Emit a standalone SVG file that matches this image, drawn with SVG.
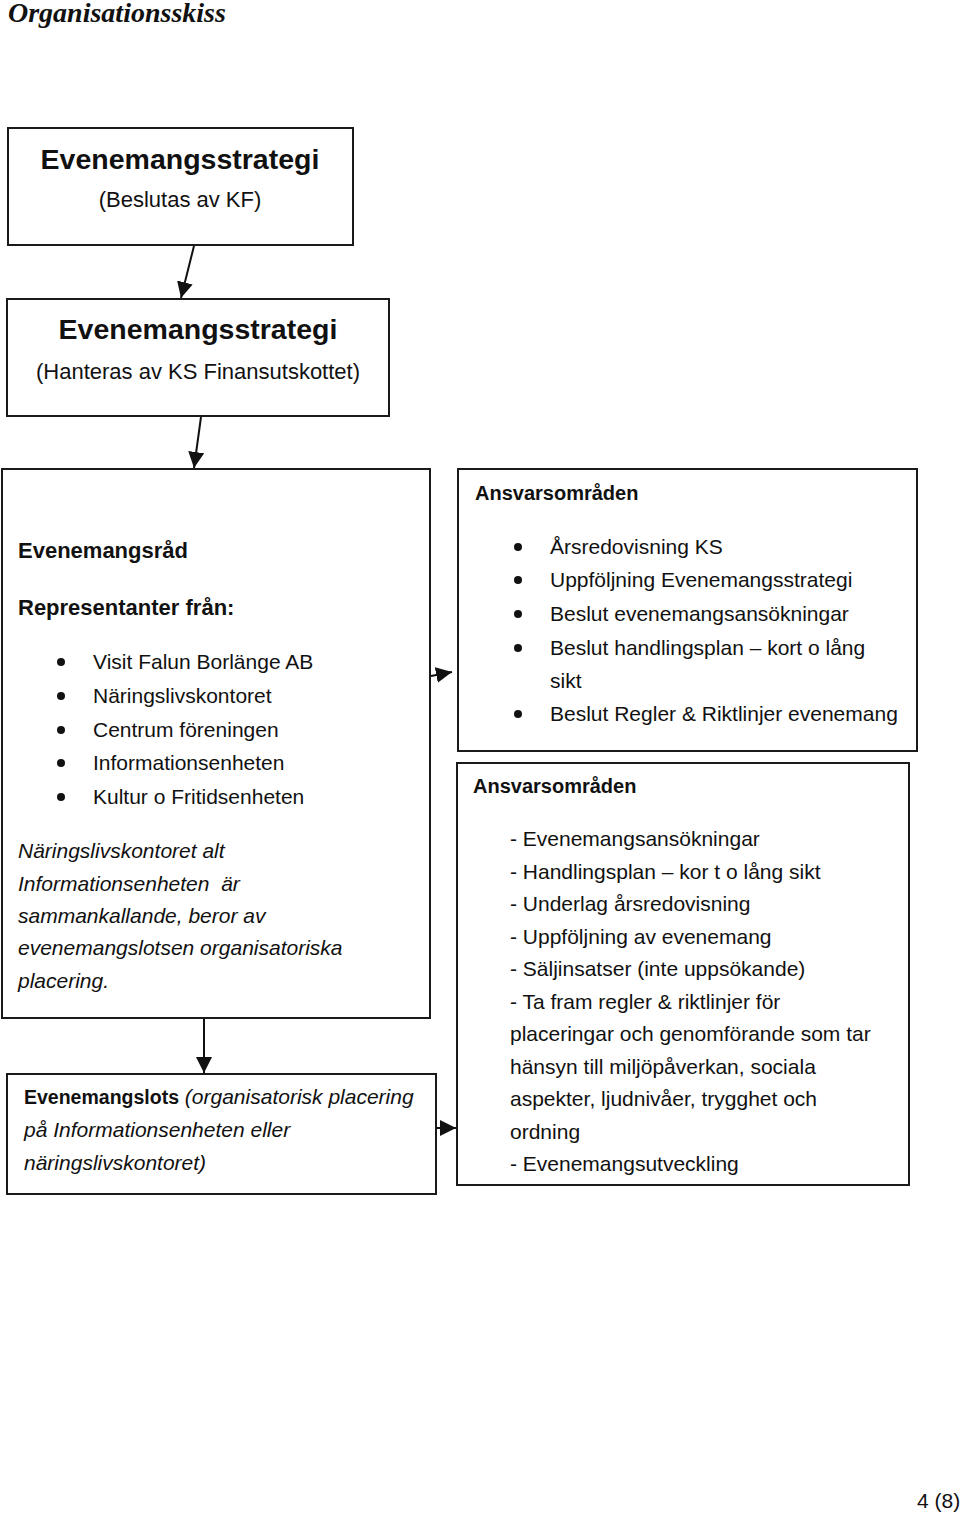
<svg xmlns="http://www.w3.org/2000/svg" width="960" height="1517" viewBox="0 0 960 1517">
<defs>
<style>
.box{fill:#fff;stroke:#1a1a1a;stroke-width:2}
.t{font-family:"Liberation Sans",Arial,sans-serif;font-size:21px;fill:#111}
.b{font-weight:bold}
.i{font-style:italic}
.hb{font-size:22px;font-weight:bold}
.ab{font-size:20px;font-weight:bold}
.h{font-family:"Liberation Sans",Arial,sans-serif;font-size:28.5px;font-weight:bold;fill:#111;text-anchor:middle}
.s{font-family:"Liberation Sans",Arial,sans-serif;font-size:22px;fill:#111;text-anchor:middle}
.conn{stroke:#111;stroke-width:2;fill:none}
</style>
<marker id="ah" viewBox="0 0 10 10" refX="10" refY="5" markerWidth="8" markerHeight="8" orient="auto" markerUnits="strokeWidth">
<path d="M0,0 L10,5 L0,10 z" fill="#111"/>
</marker>
</defs>
<rect width="960" height="1517" fill="#fff"/>
<text x="8" y="22" font-family="'Liberation Serif','Times New Roman',serif" font-size="28" font-weight="bold" font-style="italic" fill="#111">Organisationsskiss</text>

<g id="node-kf">
<rect class="box" x="8" y="128" width="345" height="117"/>
<text class="h" x="180" y="169">Evenemangsstrategi</text>
<text class="s" x="180" y="207">(Beslutas av KF)</text>
</g>

<g id="node-ks">
<rect class="box" x="7" y="299" width="382" height="117"/>
<text class="h" x="198" y="339">Evenemangsstrategi</text>
<text class="s" x="198" y="379">(Hanteras av KS Finansutskottet)</text>
</g>

<g id="node-rad">
<rect class="box" x="2" y="469" width="428" height="549"/>
<text class="t hb" x="18" y="558">Evenemangsråd</text>
<text class="t hb" x="18" y="615">Representanter från:</text>
<g fill="#111">
<circle cx="61" cy="662" r="4"/><circle cx="61" cy="696" r="4"/><circle cx="61" cy="730" r="4"/><circle cx="61" cy="763" r="4"/><circle cx="61" cy="797" r="4"/>
</g>
<text class="t" x="93" y="669">Visit Falun Borlänge AB</text>
<text class="t" x="93" y="703">Näringslivskontoret</text>
<text class="t" x="93" y="737">Centrum föreningen</text>
<text class="t" x="93" y="770">Informationsenheten</text>
<text class="t" x="93" y="804">Kultur o Fritidsenheten</text>
<text class="t i" x="18" y="858">Näringslivskontoret alt</text>
<text class="t i" x="18" y="891" xml:space="preserve">Informationsenheten  är</text>
<text class="t i" x="18" y="923">sammankallande, beror av</text>
<text class="t i" x="18" y="955">evenemangslotsen organisatoriska</text>
<text class="t i" x="18" y="988">placering.</text>
</g>

<g id="node-lots">
<rect class="box" x="7" y="1074" width="429" height="120"/>
<text class="t" x="24" y="1104"><tspan font-weight="bold" font-size="19.5">Evenemangslots</tspan> <tspan class="i">(organisatorisk placering</tspan></text>
<text class="t i" x="24" y="1137">på Informationsenheten eller</text>
<text class="t i" x="24" y="1170">näringslivskontoret)</text>
</g>

<g id="node-ansvar1">
<rect class="box" x="458" y="469" width="459" height="282"/>
<text class="t ab" x="475" y="500">Ansvarsområden</text>
<g fill="#111">
<circle cx="518" cy="547" r="4"/><circle cx="518" cy="580" r="4"/><circle cx="518" cy="614" r="4"/><circle cx="518" cy="648" r="4"/><circle cx="518" cy="714" r="4"/>
</g>
<text class="t" x="550" y="554">Årsredovisning KS</text>
<text class="t" x="550" y="587">Uppföljning Evenemangsstrategi</text>
<text class="t" x="550" y="621">Beslut evenemangsansökningar</text>
<text class="t" x="550" y="655">Beslut handlingsplan – kort o lång</text>
<text class="t" x="550" y="688">sikt</text>
<text class="t" x="550" y="721">Beslut Regler &amp; Riktlinjer evenemang</text>
</g>

<g id="node-ansvar2">
<rect class="box" x="457" y="763" width="452" height="422"/>
<text class="t ab" x="473" y="793">Ansvarsområden</text>
<text class="t" x="510" y="846">- Evenemangsansökningar</text>
<text class="t" x="510" y="879">- Handlingsplan – kor t o lång sikt</text>
<text class="t" x="510" y="911">- Underlag årsredovisning</text>
<text class="t" x="510" y="944">- Uppföljning av evenemang</text>
<text class="t" x="510" y="976">- Säljinsatser (inte uppsökande)</text>
<text class="t" x="510" y="1009">- Ta fram regler &amp; riktlinjer för</text>
<text class="t" x="510" y="1041">placeringar och genomförande som tar</text>
<text class="t" x="510" y="1074">hänsyn till miljöpåverkan, sociala</text>
<text class="t" x="510" y="1106">aspekter, ljudnivåer, trygghet och</text>
<text class="t" x="510" y="1139">ordning</text>
<text class="t" x="510" y="1171">- Evenemangsutveckling</text>
</g>

<g id="connectors">
<line class="conn" x1="194" y1="246" x2="181" y2="298" marker-end="url(#ah)"/>
<line class="conn" x1="201" y1="417" x2="194" y2="468" marker-end="url(#ah)"/>
<line class="conn" x1="204" y1="1019" x2="204" y2="1073" marker-end="url(#ah)"/>
<line class="conn" x1="431" y1="676" x2="452" y2="672" marker-end="url(#ah)"/>
<line class="conn" x1="437" y1="1128" x2="456" y2="1128" marker-end="url(#ah)"/>
</g>

<text class="t" x="917" y="1508" font-size="19">4 (8)</text>
</svg>
